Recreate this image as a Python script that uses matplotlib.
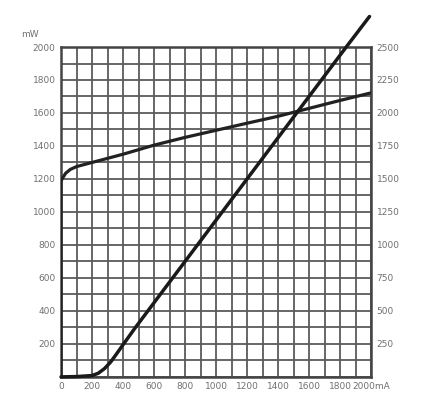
import numpy as np
import matplotlib
matplotlib.use("Agg")
import matplotlib.pyplot as plt

# current in mA, optical power in mW
flat_ma = [0, 0, 30, 60, 100, 200, 400, 600, 800, 1000, 1200, 1400, 1600, 1800, 2000]
flat_mw = [0, 1190, 1235, 1258, 1275, 1300, 1350, 1405, 1452, 1495, 1538, 1580, 1628, 1676, 1722]

steep_ma = [0, 100, 200, 240, 280, 320, 360, 400, 474, 720, 1000, 1500, 1840, 1990]
steep_mw = [0, 2, 8, 22, 50, 90, 142, 195, 292, 600, 950, 1575, 2000, 2185]

x_ticks = [0, 200, 400, 600, 800, 1000, 1200, 1400, 1600, 1800, 2000]
x_labels = ["0", "200", "400", "600", "800", "1000", "1200", "1400", "1600", "1800", "2000mA"]
left_ticks = [200, 400, 600, 800, 1000, 1200, 1400, 1600, 1800, 2000]
right_ticks = [250, 500, 750, 1000, 1250, 1500, 1750, 2000, 2250, 2500]

txt = "#707070"
fig = plt.figure(figsize=(4.36, 4.16), dpi=100)
ax = fig.add_axes([0.140, 0.094, 0.711, 0.793])

ax.set_xlim(0, 2000)
ax.set_ylim(0, 2000)
ax.set_xticks(np.arange(0, 2001, 100), minor=True)
ax.set_yticks(np.arange(0, 2001, 100), minor=True)
ax.grid(which="both", color="#5a5a5a", lw=1.3)
ax.set_axisbelow(True)
for s in ax.spines.values():
    s.set_color("#444444")
    s.set_linewidth(1.8)

ax.set_xticks(x_ticks)
ax.set_xticklabels(x_labels)
ax.set_yticks(left_ticks)
ax.tick_params(which="both", length=0, labelsize=6.5, colors=txt, pad=4)
ax.text(-0.13, 1.03, "mW", transform=ax.transAxes, fontsize=6.5, color=txt)

ax.plot(flat_ma, flat_mw, color="#222222", lw=2.3, solid_capstyle="round", zorder=3)
ax.plot(steep_ma, steep_mw, color="#1a1a1a", lw=2.5, clip_on=False,
        solid_capstyle="round", zorder=3)

ax2 = ax.twinx()
ax2.set_ylim(0, 2500)
ax2.set_yticks(right_ticks)
ax2.tick_params(length=0, labelsize=6.5, colors=txt, pad=4)
for s in ax2.spines.values():
    s.set_visible(False)

fig.savefig("out.png", dpi=100)
